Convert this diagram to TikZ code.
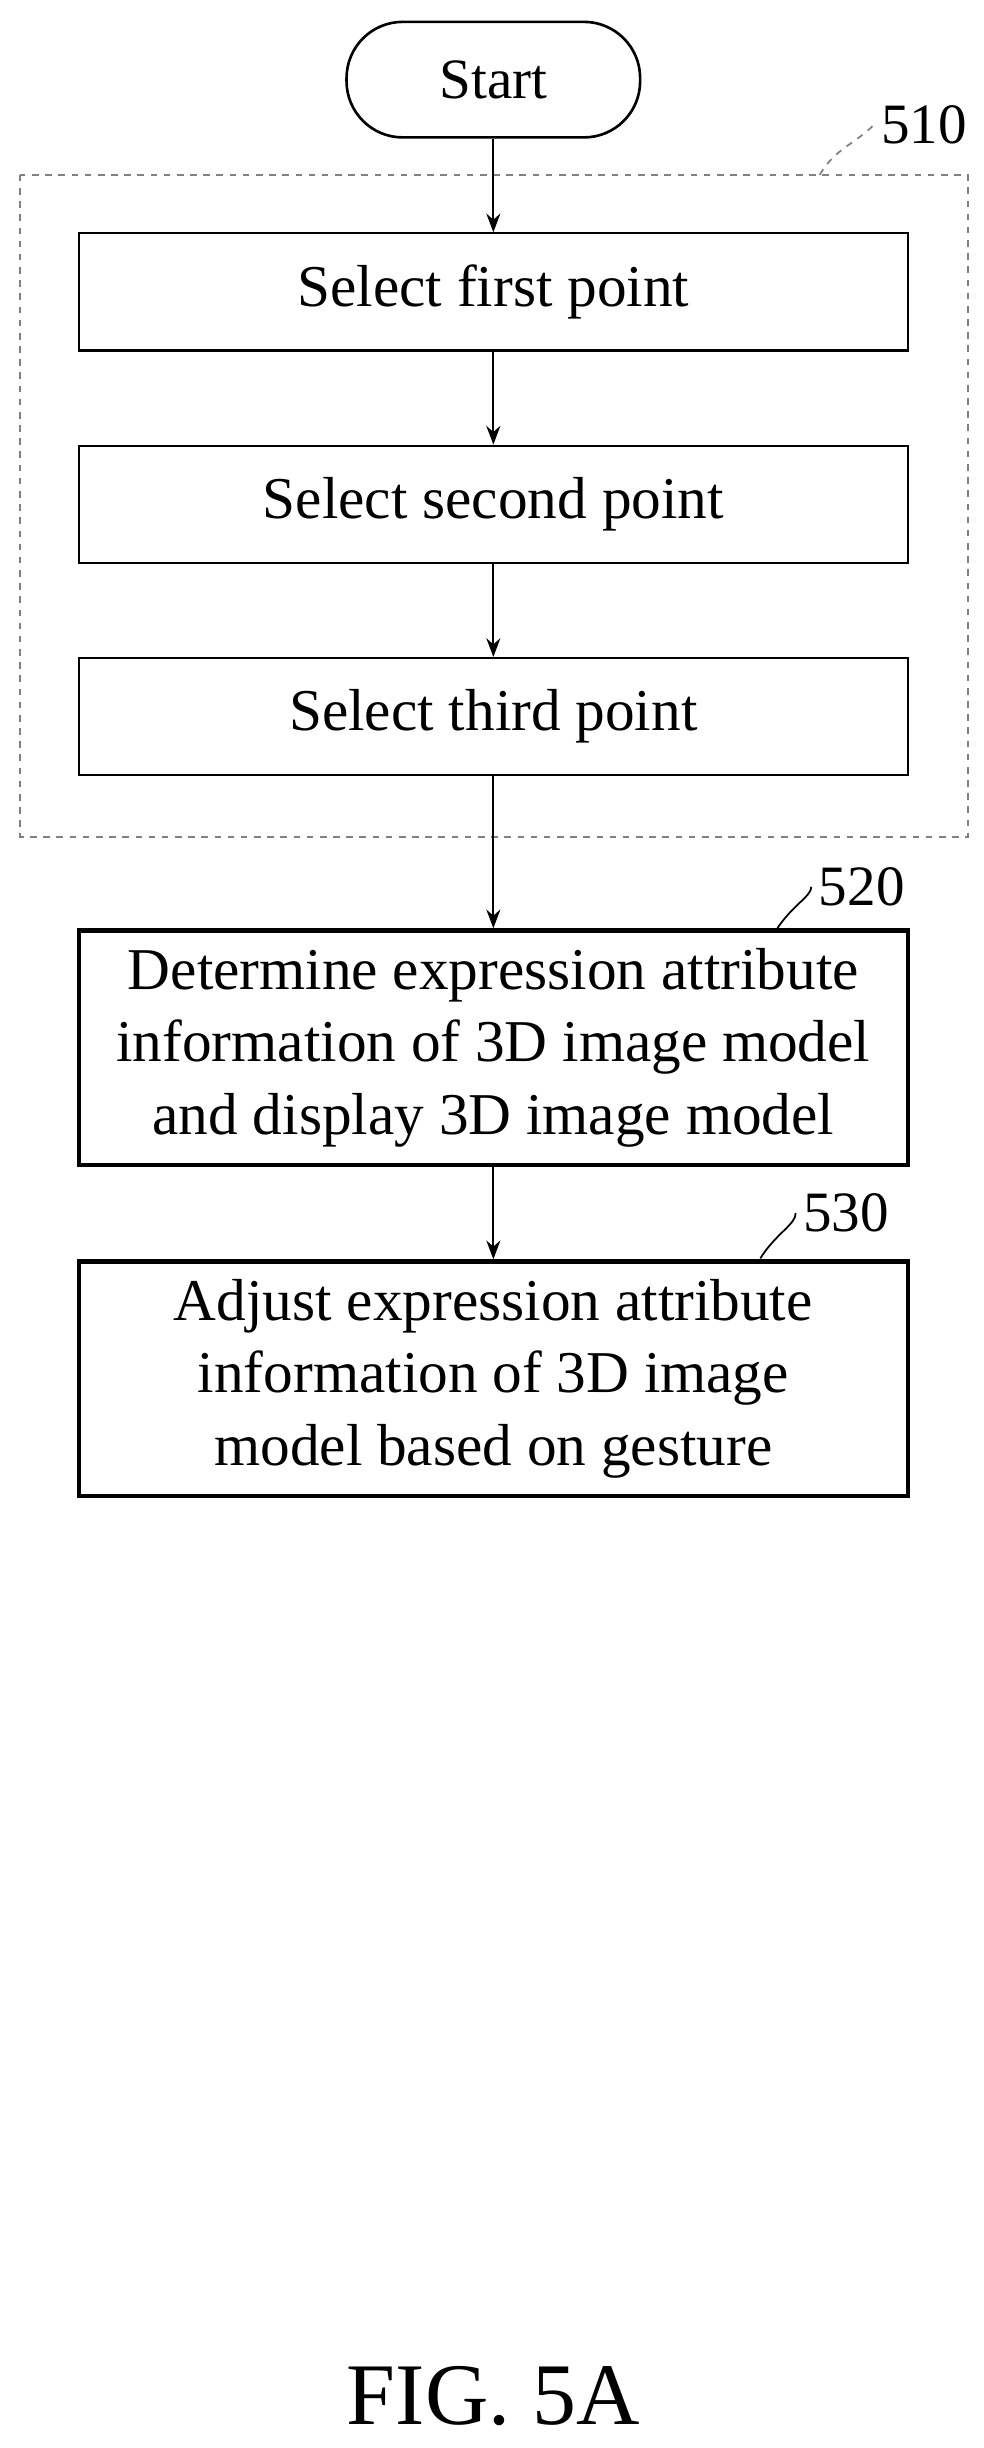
\documentclass[tikz,border=0pt]{standalone}
\usepackage{fontspec}
\setmainfont{Liberation Serif}
\usetikzlibrary{arrows.meta}

\begin{document}
\begin{tikzpicture}[x=0.025cm,y=-0.025cm,
    stepbox/.style={draw, line width=1pt, minimum width=13.275cm, minimum height=1.875cm, font=\fontsize{27}{33}\selectfont},
    bigbox/.style={draw, line width=2pt, minimum width=13.275cm, minimum height=3.75cm, align=center, font=\fontsize{27}{33}\selectfont},
    flow/.style={->, >={Stealth[length=3mm]}, line width=0.8pt}]

    \useasboundingbox (0,0) rectangle (630,1568);

    \node[draw, line width=1.2pt, rounded corners=0.9cm, minimum width=4.7cm, minimum height=1.85cm, font=\fontsize{26}{30}\selectfont] (start) at (316,51) {Start};
    \draw[dashed, gray, line width=0.8pt] (13,112) rectangle (620,536);
    \node[stepbox] (first) at (316,187) {Select first point};
    \node[stepbox] (second) at (316,323) {Select second point};
    \node[stepbox] (third) at (316,459) {Select third point};
    \node[bigbox] (determine) at (316,671) {Determine expression attribute\\information of 3D image model\\and display 3D image model};
    \node[bigbox] (adjust) at (316,883) {Adjust expression attribute\\information of 3D image\\model based on gesture};

    \draw[flow] (start) -- (first);
    \draw[flow] (first) -- (second);
    \draw[flow] (second) -- (third);
    \draw[flow] (third) -- (determine);
    \draw[flow] (determine) -- (adjust);

    % reference labels
    \node[font=\fontsize{26}{30}\selectfont] (l510) at (592,80) {510};
    \draw[dashed, gray, line width=0.8pt] (525,112) .. controls (535,95) and (548,92) .. (l510.west);
    \node[font=\fontsize{26}{30}\selectfont] (l520) at (552,568) {520};
    \draw[line width=0.8pt] (497,596) .. controls (507,580) and (520,574) .. (l520.west);
    \node[font=\fontsize{26}{30}\selectfont] (l530) at (542,777) {530};
    \draw[line width=0.8pt] (487,806) .. controls (497,790) and (510,784) .. (l530.west);

    \node[font=\fontsize{40}{48}\selectfont] (fig) at (316,1535) {FIG. 5A};
\end{tikzpicture}
\end{document}
